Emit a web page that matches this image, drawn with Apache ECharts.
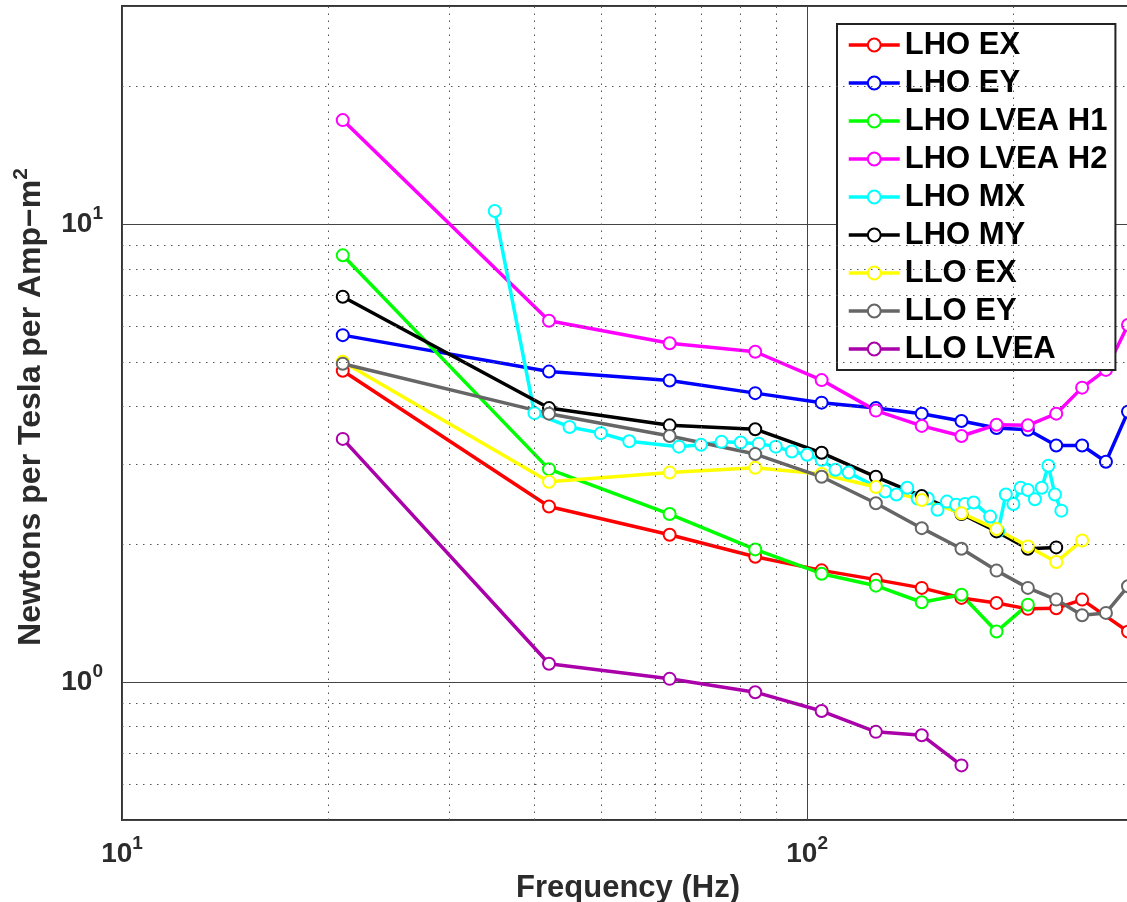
<!DOCTYPE html>
<html>
<head>
<meta charset="utf-8">
<script src="https://cdn.jsdelivr.net/npm/echarts@6/dist/echarts.min.js"></script>
<style>
  html, body { margin: 0; padding: 0; background: #fff; }
  #chart { width: 1127px; height: 902px; }
</style>
</head>
<body>
<div id="chart"></div>
<script>
// frequencies (Hz)
const harmonics = [21, 42, 63, 84, 105, 126, 147, 168, 189, 210, 231, 252, 273, 294];
const lhoExFreq = [21, 42, 63, 84, 105, 126, 147, 168, 189, 210, 231, 252, 294];
const lhoMxFreq = [35, 40, 45, 50, 55, 65, 70, 75, 80, 85, 90, 95, 100, 105, 110, 115,
  130, 135, 140, 145, 150, 155, 160, 165, 170, 175, 185, 190, 195, 200, 205, 210,
  215, 220, 225, 230, 235];

// Newtons per Tesla per Amp-m^2
const lhoEX = [4.79, 2.42, 2.10, 1.88, 1.755, 1.675, 1.607, 1.528, 1.49, 1.446, 1.45, 1.515, 1.29];
const lhoEY = [5.73, 4.77, 4.56, 4.28, 4.08, 3.97, 3.86, 3.72, 3.59, 3.56, 3.29, 3.29, 3.03, 3.90];
const lhoH1 = [8.56, 2.92, 2.33, 1.95, 1.726, 1.625, 1.495, 1.553, 1.29, 1.477];
const lhoH2 = [16.9, 6.16, 5.50, 5.27, 4.57, 3.92, 3.63, 3.45, 3.65, 3.64, 3.86, 4.40, 4.81, 6.03];
const lhoMX = [10.7, 3.87, 3.61, 3.50, 3.36, 3.27, 3.30, 3.35, 3.34, 3.32, 3.27, 3.19, 3.14, 3.06,
  2.91, 2.87, 2.61, 2.57, 2.66, 2.52, 2.52, 2.38, 2.48, 2.44, 2.45, 2.47, 2.30, 2.14, 2.57,
  2.45, 2.66, 2.63, 2.51, 2.66, 2.97, 2.57, 2.37];
const lhoMY = [6.95, 3.97, 3.64, 3.57, 3.17, 2.81, 2.55, 2.33, 2.135, 1.957, 1.97];
const lloEX = [5.01, 2.74, 2.87, 2.94, 2.85, 2.67, 2.50, 2.34, 2.16, 1.98, 1.83, 2.04];
const lloEY = [4.96, 3.86, 3.45, 3.15, 2.81, 2.46, 2.17, 1.957, 1.753, 1.607, 1.515, 1.40, 1.417, 1.62];
const lloLVEA = [3.40, 1.097, 1.017, 0.951, 0.865, 0.779, 0.766, 0.658];

// dotted minor grid positions
const xMinor = [20, 30, 40, 50, 60, 70, 80, 90, 200];
const yMinor = [0.6, 0.7, 0.8, 0.9, 2, 3, 4, 5, 6, 7, 8, 9, 20];

const font = "'Liberation Sans', Arial, Helvetica, sans-serif";

function pairs(xs, ys) {
  const out = [];
  for (let i = 0; i < ys.length; i++) out.push([xs[i], ys[i]]);
  return out;
}

function powLabel(v) {
  const e = Math.log10(v);
  const r = Math.round(e);
  if (Math.abs(e - r) > 1e-6) return '';
  return '{b|10}{s|' + r + '}';
}

const tickRich = {
  b: { fontSize: 28, fontWeight: 'bold', color: '#2b2b2b', fontFamily: font, lineHeight: 40 },
  s: { fontSize: 19, fontWeight: 'bold', color: '#2b2b2b', fontFamily: font, lineHeight: 18, verticalAlign: 'top' }
};

const lines = [
  { name: 'LHO EX', color: '#ff0000', data: pairs(lhoExFreq, lhoEX) },
  { name: 'LHO EY', color: '#0000ff', data: pairs(harmonics, lhoEY) },
  { name: 'LHO LVEA H1', color: '#00ff00', data: pairs(harmonics, lhoH1) },
  { name: 'LHO LVEA H2', color: '#ff00ff', data: pairs(harmonics, lhoH2) },
  { name: 'LHO MX', color: '#00ffff', data: pairs(lhoMxFreq, lhoMX) },
  { name: 'LHO MY', color: '#000000', data: pairs(harmonics, lhoMY) },
  { name: 'LLO EX', color: '#ffff00', data: pairs(harmonics, lloEX) },
  { name: 'LLO EY', color: '#666666', data: pairs(harmonics, lloEY) },
  { name: 'LLO LVEA', color: '#aa00aa', data: pairs(harmonics, lloLVEA) }
];

let seriesData = [];
// minor grid, drawn first so it stays under the data
seriesData.push({
  type: 'line',
  data: [],
  silent: true,
  animation: false,
  markLine: {
    silent: true,
    animation: false,
    symbol: ['none', 'none'],
    label: { show: false },
    lineStyle: { color: '#555', width: 1, type: [1.5, 5.5] },
    emphasis: { disabled: true },
    data: xMinor.map(function (v) { return { xAxis: v }; })
      .concat(yMinor.map(function (v) { return { yAxis: v }; }))
  }
});
for (var i = 0; i < lines.length; i++) {
  seriesData.push({
    name: lines[i].name,
    type: 'line',
    data: lines[i].data,
    symbol: 'emptyCircle',
    symbolSize: 12,
    animation: false,
    lineStyle: { color: lines[i].color, width: 3.5 },
    itemStyle: { color: lines[i].color, borderColor: lines[i].color, borderWidth: 3 },
    emphasis: { disabled: true }
  });
}

let myChart = echarts.init(document.getElementById('chart'));
myChart.setOption({
  backgroundColor: '#fff',
  animation: false,
  grid: {
    left: 122,
    top: 6,
    width: 1012,
    height: 814,
    outerBoundsMode: 'none',
    containLabel: false,
    show: true,
    borderColor: '#333',
    borderWidth: 2,
    backgroundColor: 'transparent'
  },
  legend: {
    data: lines.map(function (l) { return l.name; }),
    orient: 'vertical',
    left: 837,
    top: 24,
    padding: [5, 8, 5, 10],
    itemWidth: 51,
    itemHeight: 16,
    itemGap: 6,
    backgroundColor: '#fff',
    borderColor: '#222',
    borderWidth: 2,
    selectedMode: false,
    lineStyle: { width: 3.5 },
    itemStyle: { borderWidth: 3 },
    textStyle: { fontSize: 31, fontWeight: 'bold', color: '#000', fontFamily: font, lineHeight: 32 }
  },
  xAxis: {
    type: 'log',
    logBase: 10,
    min: 10,
    max: 300,
    name: 'Frequency (Hz)',
    nameLocation: 'middle',
    nameGap: 44,
    nameTextStyle: { fontSize: 31, fontWeight: 'bold', color: '#2b2b2b', fontFamily: font },
    axisLine: { show: false },
    axisTick: { show: false },
    axisLabel: { margin: 14, formatter: powLabel, rich: tickRich },
    splitLine: { show: true, lineStyle: { color: '#444', width: 1 } },
    minorSplitLine: { show: false }
  },
  yAxis: {
    type: 'log',
    logBase: 10,
    min: 0.5,
    max: 30,
    name: '{t|Newtons per Tesla per Amp\u2212m}{s|2}',
    nameLocation: 'middle',
    nameGap: 71,
    nameRotate: 90,
    nameTextStyle: {
      padding: [0, 0, 0, 12],
      rich: {
        t: { fontSize: 32, fontWeight: 'bold', color: '#2b2b2b', fontFamily: font, lineHeight: 40 },
        s: { fontSize: 21, fontWeight: 'bold', color: '#2b2b2b', fontFamily: font, lineHeight: 20, verticalAlign: 'top' }
      }
    },
    axisLine: { show: false },
    axisTick: { show: false },
    axisLabel: { margin: 19, formatter: powLabel, rich: tickRich },
    splitLine: { show: true, lineStyle: { color: '#444', width: 1 } }
  },
  series: seriesData
});
window.addEventListener('resize', function () {
  myChart.resize();
});
</script>
</body>
</html>
